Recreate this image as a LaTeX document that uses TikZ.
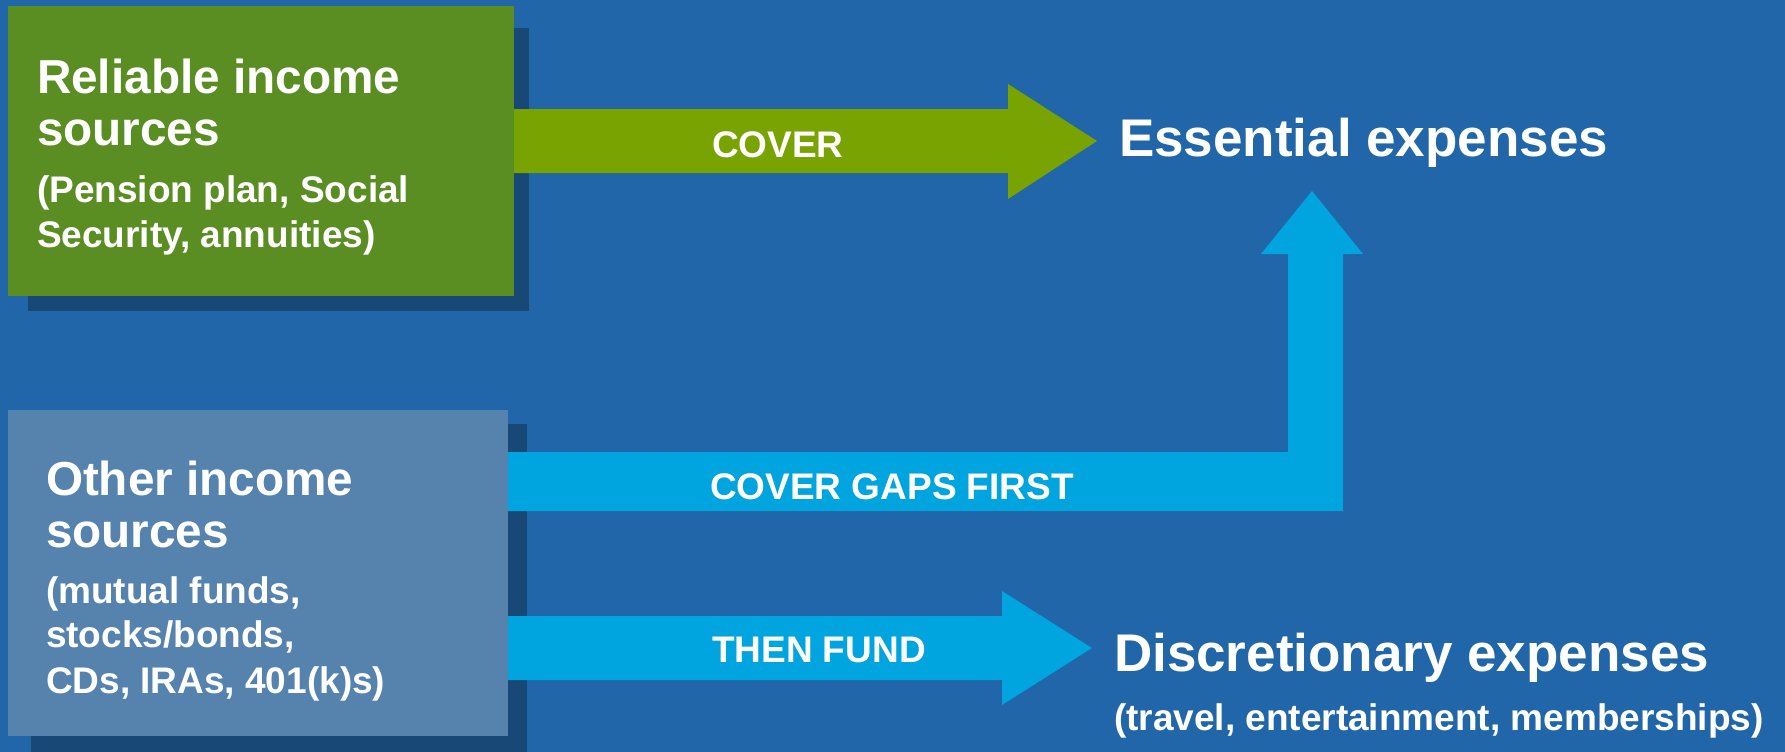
\documentclass[tikz,border=0pt]{standalone}
\usepackage{fontspec}
\setmainfont{Liberation Sans}
\definecolor{bgblue}{HTML}{2166A8}
\definecolor{shadowblue}{HTML}{174876}
\definecolor{boxgreen}{HTML}{5B8E22}
\definecolor{arrowgreen}{HTML}{78A300}
\definecolor{boxblue}{HTML}{5583AE}
\definecolor{arrowcyan}{HTML}{00A5DF}
\newcommand{\titlesize}{\fontsize{47.7}{52}\selectfont\bfseries}
\newcommand{\subsize}{\fontsize{37}{45}\selectfont\bfseries}
\newcommand{\bigsize}{\fontsize{53}{60}\selectfont\bfseries}
\tikzset{
  panel/.style={anchor=north west, inner sep=0pt, outer sep=0pt},
  label/.style={anchor=base west, inner sep=0pt, outer sep=0pt, text=white},
}
\begin{document}
\begin{tikzpicture}[x=1pt,y=-1pt]
\fill[bgblue] (0,0) rectangle (1785,752);
\useasboundingbox (0,0) rectangle (1785,752);
% shadows
\node[panel, fill=shadowblue, minimum width=501, minimum height=283] (relsh) at (28,28) {};
\node[panel, fill=shadowblue, minimum width=496, minimum height=330] (othsh) at (31,424) {};
% boxes
\node[panel, fill=boxgreen, minimum width=506, minimum height=290] (rel) at (8,6) {};
\node[panel, fill=boxblue, minimum width=500, minimum height=326] (oth) at (8,410) {};
% target texts
\node[label, font=\bigsize] (ess) at (1119,156) {Essential expenses};
\node[label, font=\bigsize] (dis) at (1114,671) {Discretionary expenses};
\node[label, font=\subsize] (disx) at (1114,730) {(travel, entertainment, memberships)};
% green arrow
\fill[arrowgreen] (rel.east |- 0,109) -- (1008,109) -- (1008,84) -- (1097,141)
  -- (1008,199) -- (1008,173) -- (rel.east |- 0,173) -- cycle;
% cyan L arrow
\fill[arrowcyan] (oth.east |- 0,452) -- (1288,452) -- (1288,254) -- (1261,254)
  -- (1312,191) -- (1363,254) -- (1343,254) -- (1343,511) -- (oth.east |- 0,511) -- cycle;
% cyan then-fund arrow
\fill[arrowcyan] (oth.east |- 0,616) -- (1002,616) -- (1002,591) -- (1092,648)
  -- (1002,705) -- (1002,680) -- (oth.east |- 0,680) -- cycle;
% arrow labels
\node[label, font=\subsize] (lcover) at (712,157) {COVER};
\node[label, font=\subsize] (lgaps) at (710,499) {COVER GAPS FIRST};
\node[label, font=\subsize] (lfund) at (712,662) {THEN FUND};
% box texts
\node[label, font=\titlesize] (r1) at (37,93) {Reliable income};
\node[label, font=\titlesize] (r2) at (37,145) {sources};
\node[label, font=\subsize] (r3) at (37,202) {(Pension plan, Social};
\node[label, font=\subsize] (r4) at (37,247) {Security, annuities)};
\node[label, font=\titlesize] (o1) at (46,495) {Other income};
\node[label, font=\titlesize] (o2) at (46,547) {sources};
\node[label, font=\subsize] (o3) at (46,603) {(mutual funds,};
\node[label, font=\subsize] (o4) at (46,647) {stocks/bonds,};
\node[label, font=\subsize] (o5) at (46,693) {CDs, IRAs, 401(k)s)};
\end{tikzpicture}
\end{document}
